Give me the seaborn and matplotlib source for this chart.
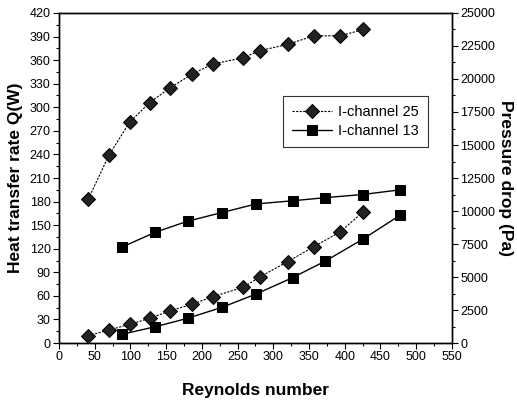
import numpy as np
import pandas as pd
import matplotlib
matplotlib.use("Agg")
import matplotlib.pyplot as plt
import seaborn as sns
from matplotlib.ticker import MultipleLocator

# Data
re_25 = [41, 70, 99, 127, 156, 186, 215, 258, 281, 320, 357, 394, 426]
q_25 = [183, 239, 281, 306, 325, 342, 355, 363, 372, 380, 391, 391, 399]
dp_25 = [553, 985, 1414, 1869, 2450, 2929, 3510, 4217, 5000, 6162, 7298, 8434, 9950]

re_13 = [88, 135, 180, 228, 276, 327, 373, 425, 478]
q_13 = [122, 141, 155, 166, 177, 181, 185, 189, 195]
dp_13 = [657, 1237, 1869, 2702, 3712, 4950, 6212, 7854, 9697]

series_names = ["I-channel 25", "I-channel 13"]
x_label = "Reynolds number"
y_left_label = "Heat transfer rate Q(W)"
y_right_label = "Pressure drop (Pa)"

sns.set_style("ticks")
plt.rcParams['font.family'] = ['Liberation Sans', 'DejaVu Sans']
plt.rcParams['text.color'] = 'black'
plt.rcParams['axes.labelcolor'] = 'black'

df25 = pd.DataFrame({"Re": re_25, "Q": q_25, "dP": dp_25})
df13 = pd.DataFrame({"Re": re_13, "Q": q_13, "dP": dp_13})

fig = plt.figure(figsize=(5.17, 4.01), dpi=100)
ax = fig.add_axes([0.114, 0.1446, 0.760, 0.823])
ax2 = ax.twinx()

dstyle = dict(color="black", marker="D", markersize=7.5, linewidth=0.8,
              linestyle=(0, (2, 1.2)), markerfacecolor="#222222", markeredgecolor="black")
sstyle = dict(color="black", marker="s", markersize=7, linewidth=1.0,
              linestyle="-", markerfacecolor="black", markeredgecolor="black")

sns.lineplot(data=df25, x="Re", y="Q", ax=ax, label=series_names[0], legend=False, **dstyle)
sns.lineplot(data=df13, x="Re", y="Q", ax=ax, label=series_names[1], legend=False, **sstyle)
sns.lineplot(data=df25, x="Re", y="dP", ax=ax2, legend=False, **dstyle)
sns.lineplot(data=df13, x="Re", y="dP", ax=ax2, legend=False, **sstyle)

ax.set_xlim(0, 550)
ax.set_ylim(0, 420)
ax2.set_ylim(0, 25000)
ax.xaxis.set_major_locator(MultipleLocator(50))
ax.xaxis.set_minor_locator(MultipleLocator(25))
ax.yaxis.set_major_locator(MultipleLocator(30))
ax.yaxis.set_minor_locator(MultipleLocator(15))
ax2.yaxis.set_major_locator(MultipleLocator(2500))
ax2.yaxis.set_minor_locator(MultipleLocator(1250))

for a in (ax, ax2):
    for s in a.spines.values():
        s.set_visible(True)
        s.set_linewidth(1.0)
        s.set_color("black")
    a.tick_params(which="major", direction="out", length=4, width=0.8, labelsize=9,
                  colors="black", labelcolor="black", pad=2)
    a.tick_params(which="minor", direction="out", length=2, width=0.8, colors="black")

ax.set_xlabel(x_label, fontsize=12.5, fontweight="bold", labelpad=14, color="black")
ax.set_ylabel(y_left_label, fontsize=12.5, fontweight="bold", labelpad=5, color="black")
ax2.set_ylabel(y_right_label, fontsize=12.5, fontweight="bold", rotation=270, labelpad=13, color="black")

h, l = ax.get_legend_handles_labels()
leg = ax.legend(h, l, loc="upper left", bbox_to_anchor=(0.570, 0.748), borderaxespad=0,
                fontsize=10.5, frameon=True, fancybox=False, handlelength=2.8,
                borderpad=0.6, labelspacing=0.35, handletextpad=0.4)
leg.get_frame().set_edgecolor("black")
leg.get_frame().set_linewidth(0.8)
for t in leg.get_texts():
    t.set_color("black")

fig.savefig("out.png", dpi=100)
